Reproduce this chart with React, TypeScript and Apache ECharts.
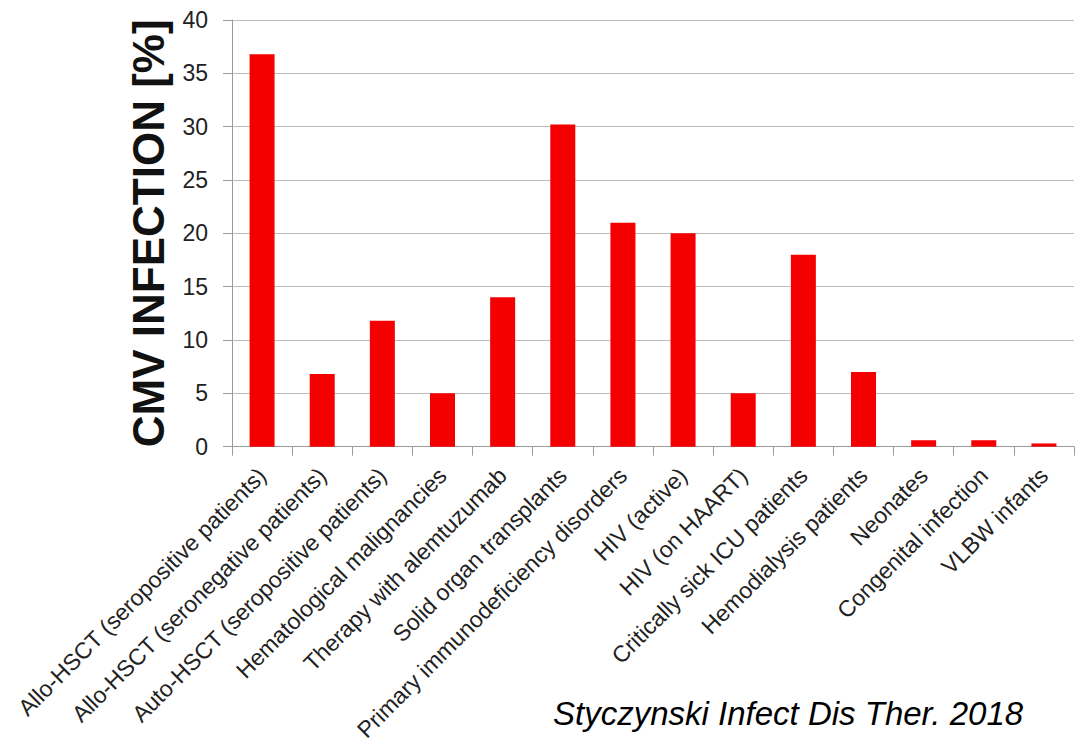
import React, { useEffect, useRef } from "react";
import * as echarts from "echarts";

const categories = [
  "Allo-HSCT (seropositive patients)",
  "Allo-HSCT (seronegative patients)",
  "Auto-HSCT (seropositive patients)",
  "Hematological malignancies",
  "Therapy with alemtuzumab",
  "Solid organ transplants",
  "Primary immunodeficiency disorders",
  "HIV (active)",
  "HIV (on HAART)",
  "Critically sick ICU patients",
  "Hemodialysis patients",
  "Neonates",
  "Congenital infection",
  "VLBW infants",
];
const values = [36.8, 6.8, 11.8, 5, 14, 30.2, 21, 20, 5, 18, 7, 0.6, 0.6, 0.3];
const yTicks = [0, 5, 10, 15, 20, 25, 30, 35, 40];
const yTitle = "CMV INFECTION [%]";
const citation = "Styczynski Infect Dis Ther. 2018";

export default function App() {
  const ref = useRef<HTMLDivElement>(null);
  useEffect(() => {
    if (!ref.current) return;
    const chart = echarts.init(ref.current, null, { renderer: "svg" });
    chart.setOption({
      animation: false,
      backgroundColor: "#ffffff",
      grid: { left: 232, right: 9, top: 20, bottom: 297, containLabel: false },
      xAxis: {
        type: "category",
        data: categories,
        boundaryGap: true,
        axisLine: { lineStyle: { color: "#9a9a9a", width: 1 } },
        axisTick: { show: true, length: 9, alignWithLabel: false, lineStyle: { color: "#9a9a9a" } },
        axisLabel: {
          interval: 0,
          rotate: 45,
          fontFamily: "Liberation Sans, Arial, sans-serif",
          fontSize: 23,
          color: "#222222",
          margin: 25,
        },
      },
      yAxis: {
        type: "value",
        min: yTicks[0],
        max: yTicks[yTicks.length - 1],
        interval: 5,
        name: yTitle,
        nameLocation: "middle",
        nameRotate: 90,
        nameGap: 62,
        nameTextStyle: {
          fontFamily: "Liberation Sans, Arial, sans-serif",
          fontWeight: "bold",
          fontSize: 44,
          color: "#111111",
        },
        axisLine: { show: true, lineStyle: { color: "#9a9a9a" } },
        axisTick: { show: true, length: 9, lineStyle: { color: "#9a9a9a" } },
        axisLabel: {
          fontFamily: "Liberation Sans, Arial, sans-serif",
          fontSize: 23,
          color: "#222222",
          margin: 24,
        },
        splitLine: { show: true, lineStyle: { color: "#bdbdbd", width: 1 } },
      },
      series: [
        {
          type: "bar",
          data: values,
          barWidth: 25,
          itemStyle: { color: "#f40000" },
        },
      ],
      graphic: [
        {
          type: "text",
          left: 553,
          top: 697,
          style: {
            text: citation,
            fontFamily: "Liberation Sans, Arial, sans-serif",
            fontStyle: "italic",
            fontSize: 33,
            fill: "#000000",
          },
        },
      ],
    });
    return () => chart.dispose();
  }, []);
  return (
    <div
      ref={ref}
      style={{ position: "absolute", left: 0, top: 0, width: 1083, height: 744 }}
    />
  );
}
